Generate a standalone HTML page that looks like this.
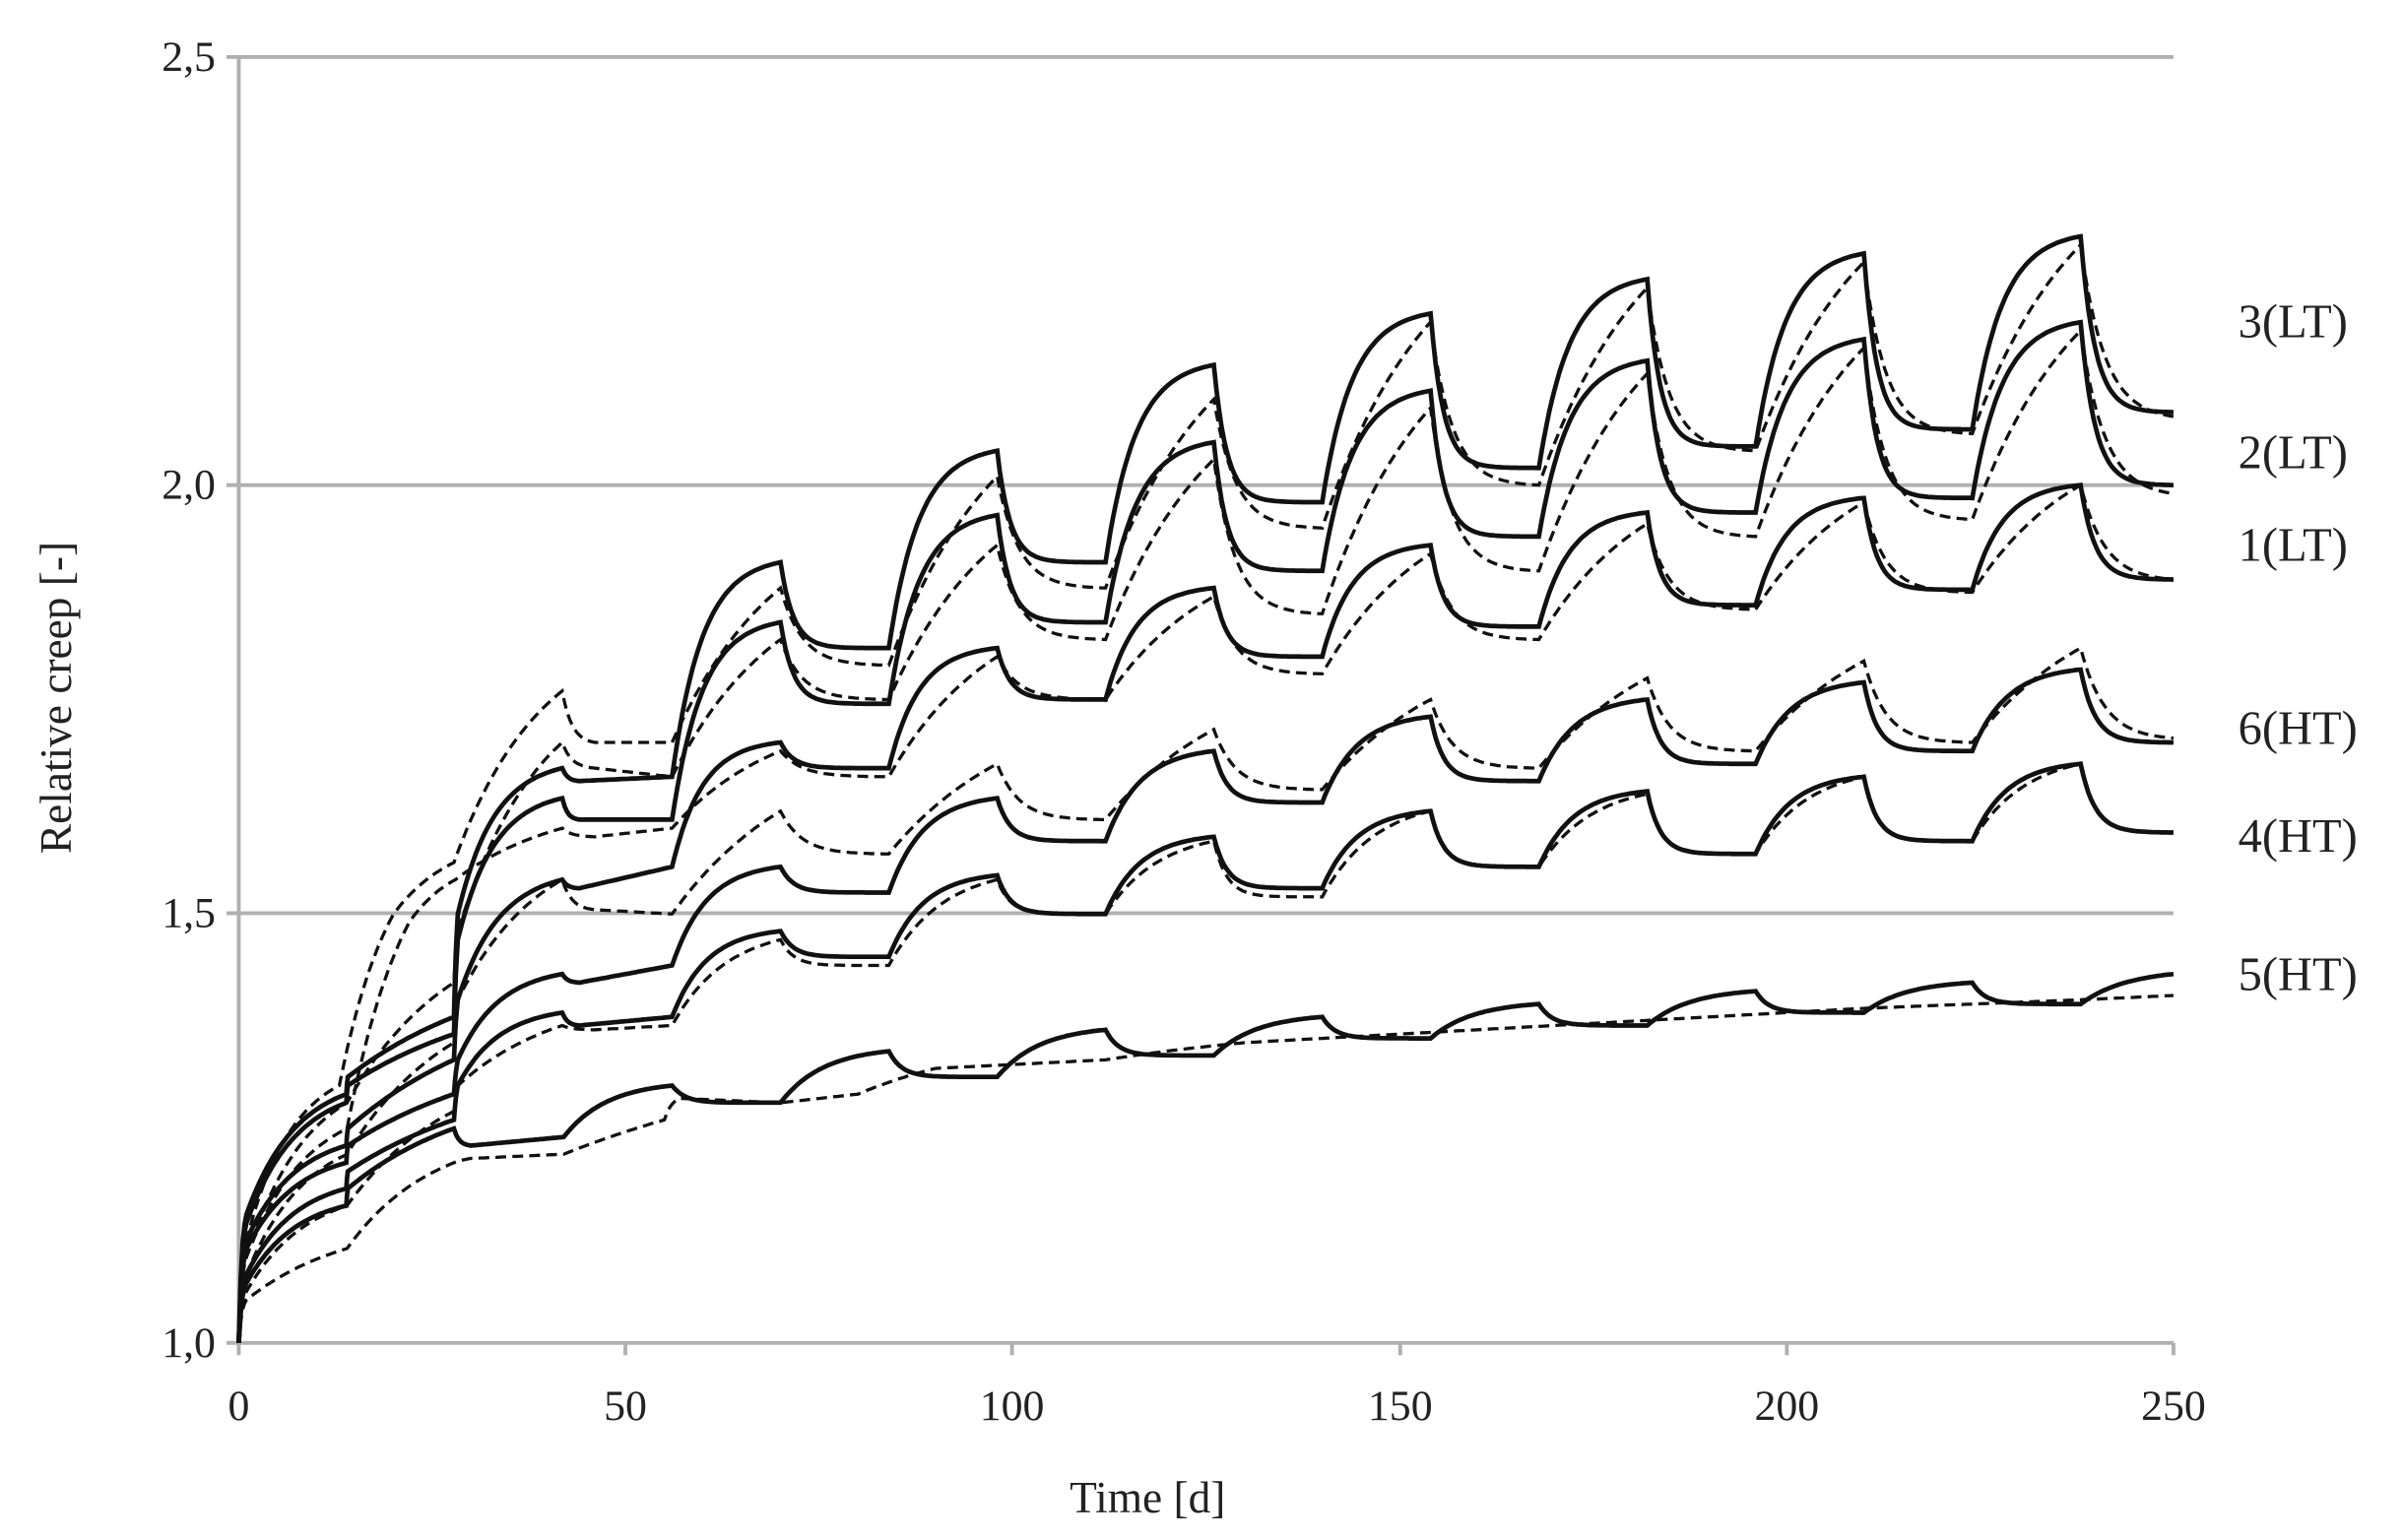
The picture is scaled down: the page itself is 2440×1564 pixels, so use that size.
<!DOCTYPE html>
<html><head><meta charset="utf-8">
<style>
html,body{margin:0;padding:0;background:#fff;}
svg{display:block;}
text{font-family:"Liberation Serif",serif;fill:#222;}
</style></head>
<body>
<svg id="c" width="2440" height="1564" viewBox="0 0 1560 1000" preserveAspectRatio="none" xmlns="http://www.w3.org/2000/svg">
<rect width="1560" height="1000" fill="#fff"/>
<g stroke="#b0b0b0" stroke-width="2.5">
<line x1="155" y1="37" x2="1411" y2="37"/>
<line x1="155" y1="315" x2="1411" y2="315"/>
<line x1="155" y1="593" x2="1411" y2="593"/>
<line x1="155" y1="37" x2="155" y2="872"/>
<line x1="155" y1="872" x2="1411" y2="872"/>
<line x1="147" y1="37" x2="155" y2="37"/>
<line x1="147" y1="315" x2="155" y2="315"/>
<line x1="147" y1="593" x2="155" y2="593"/>
<line x1="147" y1="872" x2="155" y2="872"/>
<line x1="155" y1="872" x2="155" y2="880"/>
<line x1="406" y1="872" x2="406" y2="880"/>
<line x1="657" y1="872" x2="657" y2="880"/>
<line x1="909" y1="872" x2="909" y2="880"/>
<line x1="1160" y1="872" x2="1160" y2="880"/>
<line x1="1411" y1="872" x2="1411" y2="880"/>
</g>
<g font-size="28" text-anchor="end">
<text x="140" y="46">2,5</text>
<text x="140" y="324">2,0</text>
<text x="140" y="602">1,5</text>
<text x="140" y="881">1,0</text>
</g>
<g font-size="28" text-anchor="middle">
<text x="155" y="922">0</text>
<text x="406" y="922">50</text>
<text x="657" y="922">100</text>
<text x="909" y="922">150</text>
<text x="1160" y="922">200</text>
<text x="1411" y="922">250</text>
<text x="745" y="982" font-size="29">Time [d]</text>
<text transform="translate(46,453) rotate(-90)" font-size="29">Relative creep [-]</text>
</g>
<g font-size="31">
<text x="1453" y="219">3(LT)</text>
<text x="1453" y="304">2(LT)</text>
<text x="1453" y="364">1(LT)</text>
<text x="1453" y="483">6(HT)</text>
<text x="1453" y="553">4(HT)</text>
<text x="1453" y="643">5(HT)</text>
</g>
<g id="series" fill="none" stroke="#111"></g>
</svg>
<script>
(function(){
var X=function(t){return 155+t*5.024;};
var Y=function(v){return 872-(v-1)*557;};
function g(s,k){ if(k>=5) return s; return (1-Math.exp(-s/k))/(1-Math.exp(-1/k)); }
function build(nodes){
  var d="M"+X(nodes[0][0]).toFixed(1)+","+Y(nodes[0][1]).toFixed(1);
  for(var i=1;i<nodes.length;i++){
    var t0=nodes[i-1][0],v0=nodes[i-1][1],t1=nodes[i][0],v1=nodes[i][1],k=nodes[i][2]===undefined?0.5:nodes[i][2];
    var N=Math.max(4,Math.round((t1-t0)*3));
    for(var j=1;j<=N;j++){var s=j/N;var t=t0+(t1-t0)*s;var v=v0+(v1-v0)*g(s,k);
      d+="L"+X(t).toFixed(1)+","+Y(v).toFixed(1);}
  }
  return d;
}
function per(nodes,start,peaks,troughs,endV,kr,kd){
  for(var i=0;i<peaks.length;i++){
    nodes.push([start+28*i+14,peaks[i],kr]);
    if(i<troughs.length) nodes.push([start+28*i+28,troughs[i],kd]);
  }
  nodes.push([250,endV,kd*1.3]);
  return nodes;
}
var S=[];
S.push([per([[0,1],[1,1.15,0.4],[13.9,1.29,0.5],[14.1,1.31,1],[27.8,1.38,1.5],[28.3,1.50,1],[41.8,1.67,0.35],[44,1.655,0.3],[56,1.66,10]],56,
 [1.91,2.04,2.14,2.20,2.24,2.27,2.29],[1.81,1.91,1.98,2.02,2.045,2.065],2.085,0.28,0.12),0]);
S.push([per([[0,1],[1,1.14,0.4],[13.9,1.28,0.5],[14.1,1.30,1],[27.8,1.36,1.5],[28.3,1.47,1],[41.8,1.635,0.35],[44,1.61,0.3],[56,1.61,10]],56,
 [1.84,1.965,2.05,2.11,2.145,2.17,2.19],[1.745,1.84,1.90,1.94,1.968,1.985],2.0,0.28,0.12),0]);
S.push([per([[0,1],[1,1.12,0.4],[13.9,1.23,0.5],[14.1,1.25,1],[27.8,1.33,1.5],[28.3,1.40,1],[41.8,1.54,0.4],[44,1.53,0.3],[56,1.555,10]],56,
 [1.70,1.81,1.88,1.93,1.968,1.985,2.0],[1.67,1.75,1.80,1.835,1.86,1.878],1.89,0.28,0.12),0]);
S.push([per([[0,1],[1,1.11,0.4],[13.9,1.21,0.5],[14.1,1.23,1],[27.8,1.29,1.5],[28.3,1.33,1],[41.8,1.43,0.4],[44,1.42,0.3],[56,1.44,10]],56,
 [1.555,1.635,1.69,1.73,1.75,1.77,1.785],[1.525,1.585,1.63,1.655,1.675,1.69],1.70,0.32,0.12),0]);
S.push([per([[0,1],[1,1.08,0.4],[13.9,1.18,0.5],[14.1,1.20,1],[27.8,1.26,1.5],[28.3,1.30,1],[41.8,1.385,0.4],[44,1.37,0.3],[56,1.38,10]],56,
 [1.48,1.545,1.59,1.62,1.643,1.66,1.675],[1.45,1.50,1.53,1.555,1.57,1.585],1.595,0.32,0.12),0]);
(function(){
 var n=[[0,1],[1,1.07,0.4],[13.9,1.16,0.5],[14.1,1.18,1],[27.8,1.25,1.2],[30,1.23,0.3],[42,1.24,10]];
 var pk=[1.30,1.34,1.365,1.38,1.395,1.41,1.42],tr=[1.28,1.31,1.335,1.355,1.37,1.385,1.395];
 for(var i=0;i<7;i++){n.push([56+28*i,pk[i],0.4]);n.push([70+28*i,tr[i],0.12]);}
 n.push([250,1.43,0.5]);
 S.push([n,0]);
})();
S.push([per([[0,1],[1,1.12,0.4],[13,1.30,0.5],[20,1.50,1],[27.8,1.56,1],[41.8,1.76,0.8],[46,1.70,0.3],[56,1.70,10]],56,
 [1.88,2.01,2.10,2.19,2.23,2.26,2.28],[1.79,1.88,1.95,2.00,2.04,2.06],2.08,1.0,0.2),1]);
S.push([per([[0,1],[1,1.10,0.4],[14,1.28,0.6],[27.8,1.42,1],[28.3,1.48,1],[41.8,1.70,0.8],[46,1.67,0.3],[56,1.66,10]],56,
 [1.82,1.93,2.03,2.09,2.13,2.16,2.18],[1.75,1.82,1.85,1.90,1.94,1.96],1.99,1.0,0.2),1]);
S.push([per([[0,1],[1,1.10,0.4],[14,1.25,0.6],[22,1.49,1],[28,1.54,1],[41.8,1.60,1],[46,1.59,0.3],[56,1.60,10]],56,
 [1.69,1.80,1.87,1.92,1.955,1.98,2.0],[1.66,1.75,1.78,1.82,1.855,1.875],1.89,1.0,0.2),1]);
S.push([per([[0,1],[1,1.08,0.4],[14,1.22,0.6],[27.8,1.35,1],[28.3,1.40,1],[41.8,1.54,0.8],[46,1.505,0.3],[56,1.50,10]],56,
 [1.62,1.675,1.715,1.75,1.775,1.795,1.81],[1.57,1.61,1.645,1.67,1.69,1.70],1.705,1.2,0.2),1]);
S.push([per([[0,1],[1,1.06,0.4],[14,1.16,0.6],[27.8,1.27,1],[28.3,1.30,1],[41.8,1.37,1],[46,1.365,0.3],[56,1.37,10]],56,
 [1.47,1.54,1.585,1.62,1.64,1.66,1.675],[1.44,1.50,1.52,1.555,1.57,1.585],1.595,0.5,0.12),1]);
S.push([[[0,1],[1,1.05,0.4],[14,1.11,1],[27.8,1.21,0.8],[30,1.215,1],[42,1.22,10],[55,1.26,3],[57,1.285,0.5],[70,1.28,10],[80,1.29,10],[90,1.32,2],[112,1.33,10],[130,1.35,2],[150,1.36,10],[180,1.375,10],[210,1.39,10],[238,1.40,10],[250,1.405,10]],1]);
var grp=document.getElementById('series'),html='';
for(var i=0;i<S.length;i++){
  var d=build(S[i][0]);
  if(S[i][1]) html+='<path d="'+d+'" stroke-width="2.1" stroke-dasharray="7,4"/>';
  else html+='<path d="'+d+'" stroke-width="3"/>';
}
grp.innerHTML=html;
})();
</script>
</body></html>
